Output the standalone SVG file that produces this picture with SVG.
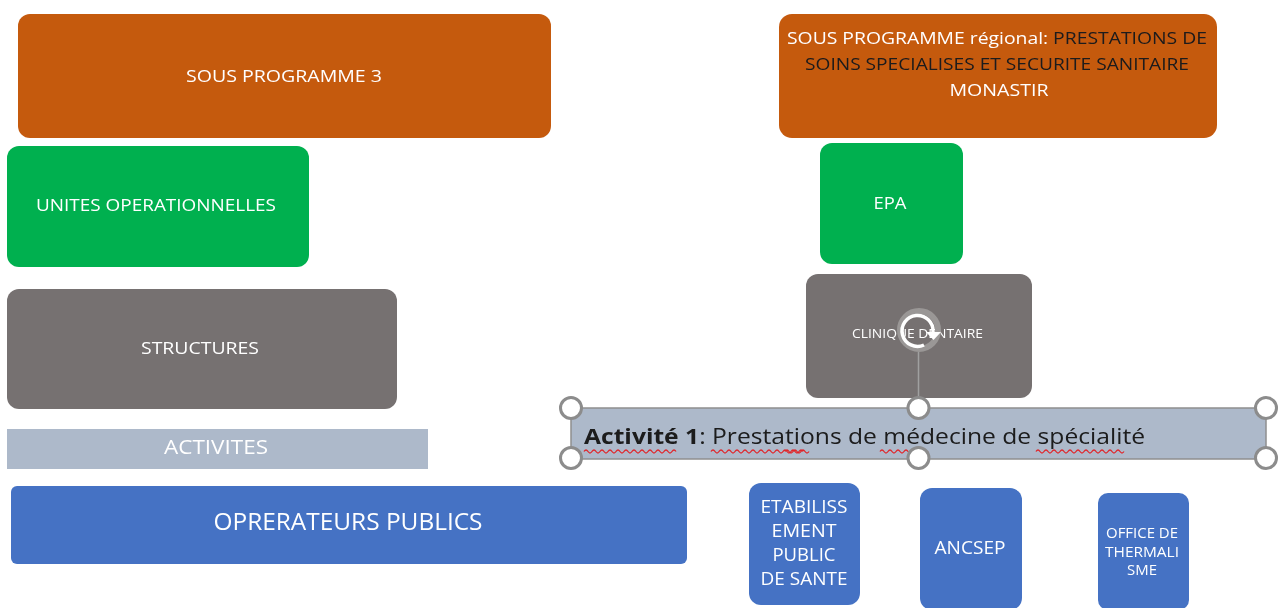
<svg xmlns="http://www.w3.org/2000/svg" width="1280" height="608" viewBox="0 0 1280 608">
<style>
text{font-family:"Open Sans","Liberation Sans",sans-serif;fill:#fff;text-anchor:middle}
.o{fill:#c55a11}.g{fill:#00b050}.d{fill:#767171}.b{fill:#4472c4}.l{fill:#adb9ca}
.h{fill:#fff;stroke:#8c8c8c;stroke-width:3}
.w{fill:none;stroke:#e0262b;stroke-width:1.3}
.k{fill:#1a1a1a}
</style>
<defs>
<filter id="soft" x="-2%" y="-2%" width="104%" height="104%"><feGaussianBlur stdDeviation="0.45"/></filter>
</defs>
<g filter="url(#soft)">
<g id="sous-programme-3"><rect class="o" x="18" y="14" width="533" height="124" rx="12"/><text x="284" y="82" font-size="16" textLength="196" lengthAdjust="spacingAndGlyphs">SOUS PROGRAMME 3</text></g>
<g id="sous-programme-regional"><rect class="o" x="779" y="14" width="438" height="124" rx="13"/>
<text x="997" y="44" font-size="16" textLength="420" lengthAdjust="spacingAndGlyphs">SOUS PROGRAMME régional: <tspan class="k" fill="#2a1505">PRESTATIONS DE</tspan></text>
<text x="997" y="70" font-size="16" textLength="384" lengthAdjust="spacingAndGlyphs" class="k">SOINS SPECIALISES ET SECURITE SANITAIRE</text>
<text x="999" y="96" font-size="16" textLength="99" lengthAdjust="spacingAndGlyphs">MONASTIR</text></g>
<g id="unites-operationnelles"><rect class="g" x="7" y="146" width="302" height="121" rx="12"/><text x="156" y="211" font-size="16.5" textLength="240" lengthAdjust="spacingAndGlyphs">UNITES OPERATIONNELLES</text></g>
<g id="epa"><rect class="g" x="820" y="143" width="143" height="121" rx="12"/><text x="890" y="209" font-size="16.5" textLength="33" lengthAdjust="spacingAndGlyphs">EPA</text></g>
<g id="structures"><rect class="d" x="7" y="289" width="390" height="120" rx="12"/><text x="200" y="354" font-size="16.5" textLength="118" lengthAdjust="spacingAndGlyphs">STRUCTURES</text></g>
<g id="clinique"><rect class="d" x="806" y="274" width="226" height="124" rx="12"/><text x="917.500" y="338" font-size="12.500" textLength="131" lengthAdjust="spacingAndGlyphs">CLINIQUE DENTAIRE</text></g>
<g id="activites"><rect class="l" x="7" y="429" width="421" height="40"/><text x="216" y="454" font-size="20" textLength="104" lengthAdjust="spacingAndGlyphs">ACTIVITES</text></g>
<g id="activite-1"><rect class="l" x="571" y="408" width="695" height="51" stroke="#8f8f8f" stroke-width="1.500"/>
<text x="584" y="444" font-size="22" textLength="561" lengthAdjust="spacingAndGlyphs" class="k" style="text-anchor:start"><tspan font-weight="700">Activité 1</tspan>: Prestations de médecine de spécialité</text>
<path class="w" d="M584 451.500q2-3 4 0t4 0 4 0 4 0 4 0 4 0 4 0 4 0 4 0 4 0 4 0 4 0 4 0 4 0 4 0 4 0 4 0 4 0 4 0 4 0 4 0 4 0 4 0M711 451.500q2-3 4 0t4 0 4 0 4 0 4 0 4 0 4 0 4 0 4 0 4 0 4 0 4 0 4 0 4 0 4 0 4 0 4 0 4 0 4 0 4 0 4 0 4 0 4 0M785 451.500q2-3 4 0t4 0 4 0 4 0 4 0 4 0M880 451.500q2-3 4 0t4 0 4 0 4 0 4 0 4 0 4 0 4 0 4 0 4 0 4 0 4 0M1036 451.500q2-3 4 0t4 0 4 0 4 0 4 0 4 0 4 0 4 0 4 0 4 0 4 0 4 0 4 0 4 0 4 0 4 0 4 0 4 0 4 0 4 0 4 0 4 0"/></g>
<g id="oprerateurs-publics"><rect class="b" x="11" y="486" width="676" height="78" rx="6"/><text x="348" y="530" font-size="24" textLength="269" lengthAdjust="spacingAndGlyphs">OPRERATEURS PUBLICS</text></g>
<g id="etablissement"><rect class="b" x="749" y="483" width="111" height="122" rx="12"/>
<text x="804" y="513" font-size="17.500" textLength="87" lengthAdjust="spacingAndGlyphs">ETABILISS</text>
<text x="804" y="537" font-size="17.500" textLength="65" lengthAdjust="spacingAndGlyphs">EMENT</text>
<text x="804" y="561" font-size="17.500" textLength="63" lengthAdjust="spacingAndGlyphs">PUBLIC</text>
<text x="804" y="585" font-size="17.500" textLength="87" lengthAdjust="spacingAndGlyphs">DE SANTE</text></g>
<g id="ancsep"><rect class="b" x="920" y="488" width="102" height="122" rx="12"/><text x="970" y="554" font-size="17.500" textLength="71" lengthAdjust="spacingAndGlyphs">ANCSEP</text></g>
<g id="office"><rect class="b" x="1098" y="493" width="91" height="117" rx="10"/>
<text x="1142" y="538" font-size="14" textLength="72" lengthAdjust="spacingAndGlyphs">OFFICE DE</text>
<text x="1142" y="557" font-size="14" textLength="74" lengthAdjust="spacingAndGlyphs">THERMALI</text>
<text x="1142" y="575" font-size="14" textLength="30" lengthAdjust="spacingAndGlyphs">SME</text></g>
<g id="connectors">
<line x1="918.500" y1="352" x2="918.500" y2="398" stroke="#a0a0a0" stroke-width="1.500"/>
</g>
<g id="selection-handles">
<circle class="h" cx="571" cy="408" r="10.500"/><circle class="h" cx="918.500" cy="408" r="10.500"/><circle class="h" cx="1266" cy="408" r="10.500"/>
<circle class="h" cx="571" cy="458" r="10.500"/><circle class="h" cx="918.500" cy="458" r="10.500"/><circle class="h" cx="1266" cy="458" r="10.500"/>
<circle cx="919" cy="330" r="19" fill="none" stroke="#9a9796" stroke-width="6"/>
<path d="M933 332A15.500 15.500 0 1 0 924 345" fill="none" stroke="#fff" stroke-width="3.500"/>
<path d="M926 332h15l-7.500 8z" fill="#fff"/>
</g>
</g>
</svg>
